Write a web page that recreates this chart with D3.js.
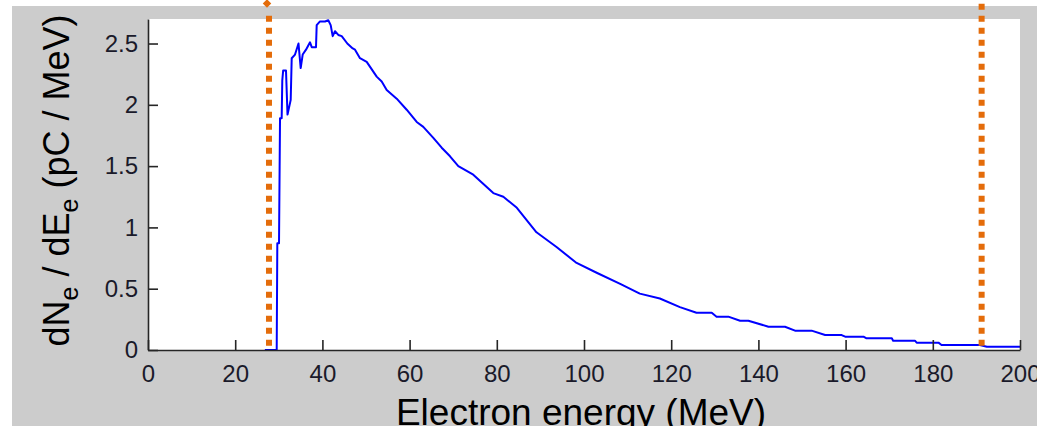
<!DOCTYPE html>
<html>
<head>
<meta charset="utf-8">
<script src="https://cdn.jsdelivr.net/npm/d3@7"></script>
<style>
	html, body { margin:0; padding:0; background:#ffffff; }
	svg { display:block; font-family:"Liberation Sans", Arial, sans-serif; }
</style>
</head>
<body>
<svg id="specsvg"></svg>
<script>
/*	Spectrum data: energy (MeV) and dNe/dEe (pC/MeV)*/
const energy = [26.8, 29.52, 29.66, 30.05, 30.28, 30.66, 30.8, 31.0, 31.65, 32.0,
	32.73, 32.96, 33.72, 34.52, 35.02, 35.48, 36.24, 37.16, 37.55, 38.53,
	38.69, 39.45, 40.6, 41.35, 41.9, 42.36, 42.89, 43.65, 44.43, 45.71,
	46.95, 47.48, 48.62, 50.16, 52.45, 53.6, 54.75, 57.04, 59.33, 61.63,
	63.14, 65.44, 67.36, 69.27, 71.17, 74.6, 79.2, 81.5, 84.6, 89.1,
	93.7, 98.3, 102.9, 108.3, 112.8, 117.4, 122, 125.8, 129.3, 130.4,
	133.1, 135.8, 137.7, 142.3, 146.1, 148.4, 152.2, 155.3, 159.1, 159.9,
	164.1, 164.8, 170.6, 170.9, 175.9, 176.3, 181.3, 182.0, 190.8, 192.4, 200];
const charge = [0, 0, 0.87, 0.87, 1.89, 1.89, 2.2, 2.28, 2.28, 1.92,
	2.04, 2.38, 2.41, 2.50, 2.30, 2.41, 2.45, 2.51, 2.47, 2.47,
	2.65, 2.68, 2.68, 2.69, 2.65, 2.56, 2.60, 2.57, 2.56, 2.50,
	2.46, 2.45, 2.38, 2.35, 2.23, 2.19, 2.12, 2.05, 1.96, 1.86,
	1.82, 1.73, 1.65, 1.58, 1.50, 1.43, 1.28, 1.25, 1.16, 0.96,
	0.84, 0.71, 0.63, 0.54, 0.46, 0.42, 0.35, 0.304, 0.304, 0.272,
	0.272, 0.239, 0.239, 0.19, 0.19, 0.158, 0.158, 0.122, 0.122, 0.109,
	0.109, 0.095, 0.095, 0.076, 0.076, 0.060, 0.060, 0.041, 0.041, 0.027, 0.027];

/*	Axis ticks and the two marked energies (orange dotted lines)*/
const xTicks = [0, 20, 40, 60, 80, 100, 120, 140, 160, 180, 200];
const yTicks = [0, 0.5, 1, 1.5, 2, 2.5];
const yTickLabels = ["0", "0.5", "1", "1.5", "2", "2.5"];
const markEnergies = [27.75, 191.2];

/*	Svg size and plot box-------------------------*/
const width = 1037, height = 426;
const padding = {left:148, right:17, top:19, bottom:76};

const svg = d3.select("#specsvg")
			.attr("width", width)
			.attr("height", height);

const x = d3.scaleLinear().domain([0, 200]).range([padding.left, width - padding.right]);
const y = d3.scaleLinear().domain([0, 2.7]).range([height - padding.bottom, padding.top]);

/*	Grey figure background and white axes area----*/
svg.append("rect")
	.attr("x", 12).attr("y", 6)
	.attr("width", width - 12).attr("height", height - 6)
	.attr("fill", "#cccccc");

svg.append("rect")
	.attr("x", x(0)).attr("y", y(2.7))
	.attr("width", x(200) - x(0)).attr("height", y(0) - y(2.7))
	.attr("fill", "#ffffff");

/*	Spectrum line--------------------------------*/
const pts = energy.map((e, i) => [e, charge[i]]);
svg.append("path")
	.datum(pts)
	.attr("fill", "none")
	.attr("stroke", "#0000ff")
	.attr("stroke-width", 2)
	.attr("stroke-linejoin", "round")
	.attr("d", d3.line().x(d => x(d[0])).y(d => y(d[1])));

/*	Axes, ticks pointing inwards------------------*/
const xAxis = svg.append("g")
	.attr("transform", "translate(0," + y(0) + ")")
	.call(d3.axisBottom(x).tickValues(xTicks).tickSize(-10).tickSizeOuter(0).tickPadding(15).tickFormat(d3.format("d")));

const yAxis = svg.append("g")
	.attr("transform", "translate(" + x(0) + ",0)")
	.call(d3.axisLeft(y).tickValues(yTicks).tickSize(-10).tickSizeOuter(0).tickPadding(10)
		.tickFormat((d, i) => yTickLabels[i]));

[xAxis, yAxis].forEach(g => {
	g.select(".domain").attr("stroke", "#262626").attr("stroke-width", 1.6);
	g.selectAll(".tick line").attr("stroke", "#262626").attr("stroke-width", 1.6);
	g.selectAll(".tick text")
		.attr("fill", "#1a1a2a")
		.style("font-size", "24px")
		.style("font-family", "'Liberation Sans', Arial, sans-serif");
});

/*	Orange dotted markers (drawn over the axes)---*/
markEnergies.forEach((e, i) => {
	svg.append("line")
		.attr("x1", x(e)).attr("x2", x(e))
		.attr("y1", i === 0 ? 15.7 : 3.7)
		.attr("y2", y(0) - 4)
		.attr("stroke", "#e46c0a")
		.attr("stroke-width", 6)
		.attr("stroke-dasharray", "6,6");
});
/*	small arrow tip on top of the first marker*/
svg.append("path")
	.attr("transform", "translate(" + (x(markEnergies[0]) - 2) + ",3.5) rotate(45)")
	.attr("d", "M-3,-3L3,-3L3,3L-3,3Z")
	.attr("fill", "#e46c0a");

/*	Axis labels----------------------------------*/
svg.append("text")
	.attr("x", (x(0) + x(200)) / 2 - 3)
	.attr("y", 425)
	.attr("text-anchor", "middle")
	.style("font-size", "37px")
	.attr("fill", "#000")
	.text("Electron energy (MeV)");

const yl = svg.append("text")
	.attr("transform", "translate(69,180.5) rotate(-90)")
	.attr("text-anchor", "middle")
	.style("font-size", "36px")
	.attr("fill", "#000");
yl.append("tspan").text("dN");
yl.append("tspan").attr("dy", 9).style("font-size", "25px").text("e");
yl.append("tspan").attr("dy", -9).text(" / dE");
yl.append("tspan").attr("dy", 9).style("font-size", "25px").text("e");
yl.append("tspan").attr("dy", -9).text(" (pC / MeV)");
</script>
</body>
</html>
